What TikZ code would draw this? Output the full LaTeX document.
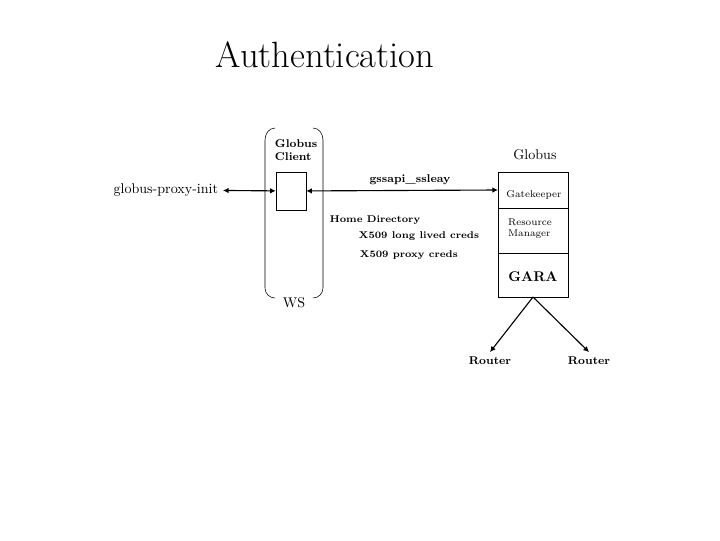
\documentclass[tikz,border=0pt]{standalone}
\usepackage{tikz}
\usetikzlibrary{arrows.meta}
\begin{document}
\begin{tikzpicture}[x=0.025cm,y=-0.025cm,
  lbl/.style={font=\footnotesize\bfseries},
  tiny/.style={font=\scriptsize},
  tip/.style={-{Latex[length=4pt,width=4pt]}}]
\useasboundingbox (0,0) rectangle (720,540);
\node (title) at (325,55) {\fontsize{26}{30}\selectfont Authentication};
% workstation bracket
\draw (275,128) to[out=180,in=90] (265,140) -- (265,288) to[out=-90,in=180] (275,298);
\draw (313,128) to[out=0,in=90] (323,140) -- (323,288) to[out=-90,in=0] (313,298);
\node (ws) at (294,303) {WS};
\node[lbl,align=left,anchor=west] (client) at (270,150) {Globus\\Client};
\node[draw,minimum width=0.75cm,minimum height=0.95cm,inner sep=0pt] (box) at (291,191) {};
\node[anchor=east] (init) at (223,190) {globus-proxy-init};
% server stack
\node (globus) at (535,155) {Globus};
\draw (498,172) rectangle (568,297);
\draw (498,208) -- (568,208) (498,253) -- (568,253);
\coordinate (gk) at (498,190);
\node[tiny] (gate) at (534,195) {Gatekeeper};
\node[tiny,align=left] (rm) at (530,229) {Resource\\Manager};
\node[font=\bfseries] (gara) at (533,277) {GARA};
\coordinate (bot) at (533,297);
% links
\draw[{Latex[length=4pt,width=4pt]}-{Latex[length=4pt,width=4pt]},thick] (init) -- (box);
\draw[{Latex[length=4pt,width=4pt]}-{Latex[length=4pt,width=4pt]},thick] (box) -- (gk);
\node[lbl] (gss) at (410,180) {gssapi\_ssleay};
\node[tiny,font=\scriptsize\bfseries,anchor=west] (home) at (325,220) {Home Directory};
\node[tiny,font=\scriptsize\bfseries,anchor=west] (long) at (354,236) {X509 long lived creds};
\node[tiny,font=\scriptsize\bfseries,anchor=west] (proxy) at (355,255) {X509 proxy creds};
\node[lbl] (r1) at (490,361) {Router};
\node[lbl] (r2) at (589,361) {Router};
\draw[tip,thick] (bot) -- (r1.north);
\draw[tip,thick] (bot) -- (r2.north);
\end{tikzpicture}
\end{document}
